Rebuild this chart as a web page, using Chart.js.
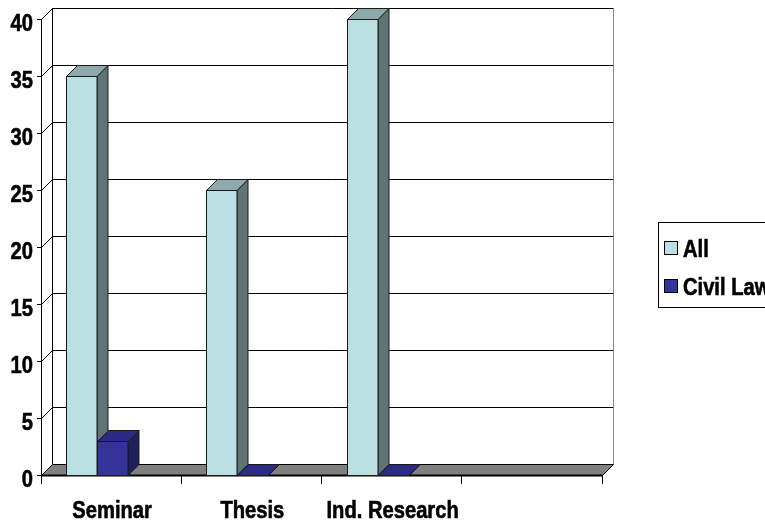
<!DOCTYPE html>
<html>
<head>
<meta charset="utf-8">
<script src="https://cdn.jsdelivr.net/npm/chart.js@4"></script>
<style>
  html, body { margin: 0; padding: 0; background: #ffffff; }
  #wrap { width: 765px; height: 523px; }
</style>
</head>
<body>
<div id="wrap"><canvas id="c" width="765" height="523"></canvas></div>
<script>
// Course type counts
const categories = ['Seminar', 'Thesis', 'Ind. Research', ''];
const allValues = [35, 25, 40, null];
const civilLawValues = [3, 0, 0, null];
const seriesNames = ['All', 'Civil Law'];
const yMin = 0;
const yMax = 40;
const yStep = 5;

// Styling
const LABEL_FONT = 'bold 24px "Liberation Sans", Arial, sans-serif';
const NARROW = 0.84;     // horizontal squeeze for a condensed label face
const DEPTH_X = 11;      // 3D depth offset to the right
const DEPTH_Y = -11;     // 3D depth offset upward
const GROUP_SHIFT = 14;  // clusters sit a little left of the category centre
const faces = [
  { front: '#bbe0e3', top: '#8eaaac', side: '#5e7475' },
  { front: '#333399', top: '#2b2b86', side: '#1f1f5c' }
];

function narrowText(ctx, text, x, y, align) {
  ctx.save();
  ctx.translate(x, y);
  ctx.scale(NARROW, 1);
  ctx.font = LABEL_FONT;
  ctx.textAlign = align;
  ctx.textBaseline = 'alphabetic';
  ctx.fillStyle = '#000000';
  ctx.strokeStyle = '#000000';
  ctx.lineWidth = 0.6;
  ctx.fillText(text, 0, 0);
  ctx.strokeText(text, 0, 0);
  ctx.restore();
}

// Draws the back wall, floor, 3D columns, axis labels and legend
const box3d = {
  id: 'box3d',
  beforeDatasetsDraw(chart) {
    const ctx = chart.ctx;
    const xs = chart.scales.x, ys = chart.scales.y;
    const L = xs.left, R = xs.right;
    const B = ys.getPixelForValue(yMin), T = ys.getPixelForValue(yMax);
    ctx.save();
    ctx.lineWidth = 1;

    // back wall
    ctx.fillStyle = '#ffffff';
    ctx.fillRect(L + DEPTH_X, T + DEPTH_Y, R - L, B - T);

    // grid lines on back wall and side wall
    ctx.strokeStyle = '#000000';
    for (let v = yMin; v <= yMax; v += yStep) {
      const y = Math.round(ys.getPixelForValue(v)) + 0.5;
      ctx.beginPath();
      ctx.moveTo(L + 0.5, y);
      ctx.lineTo(L + DEPTH_X + 0.5, y + DEPTH_Y);
      ctx.lineTo(R + DEPTH_X, y + DEPTH_Y);
      ctx.stroke();
    }
    // wall edges
    ctx.beginPath();
    ctx.moveTo(L + DEPTH_X + 0.5, T + DEPTH_Y);
    ctx.lineTo(L + DEPTH_X + 0.5, B + DEPTH_Y);
    ctx.stroke();
    ctx.strokeStyle = '#8c8c8c';
    ctx.beginPath();
    ctx.moveTo(R + DEPTH_X + 0.5, T + DEPTH_Y);
    ctx.lineTo(R + DEPTH_X + 0.5, B + DEPTH_Y);
    ctx.stroke();

    // floor
    const b = Math.round(B) + 0.5;
    ctx.fillStyle = '#808080';
    ctx.strokeStyle = '#000000';
    ctx.beginPath();
    ctx.moveTo(L + 0.5, b);
    ctx.lineTo(R + 0.5, b);
    ctx.lineTo(R + DEPTH_X + 0.5, b + DEPTH_Y);
    ctx.lineTo(L + DEPTH_X + 0.5, b + DEPTH_Y);
    ctx.closePath();
    ctx.fill();
    ctx.stroke();
    ctx.lineWidth = 2;
    ctx.beginPath();
    ctx.moveTo(L, b);
    ctx.lineTo(R + 1, b);
    ctx.stroke();
    ctx.lineWidth = 1;

    // columns, left to right so later fronts overlap earlier side faces
    const metas = chart.data.datasets.map((d, i) => chart.getDatasetMeta(i));
    for (let j = 0; j < categories.length; j++) {
      metas.forEach((meta, i) => {
        const el = meta.data[j];
        const raw = chart.data.datasets[i].data[j];
        if (!el || raw === null || raw === undefined) return;
        const w = el.width;
        const x0 = Math.round(el.x - w / 2 - GROUP_SHIFT) + 0.5;
        const x1 = Math.round(x0 + w);
        const yt = Math.round(el.y) + 0.5;
        const yb = Math.round(el.base) + 0.5;
        const f = faces[i];
        ctx.strokeStyle = '#1a1a1a';
        // side
        ctx.fillStyle = f.side;
        ctx.beginPath();
        ctx.moveTo(x1, yt);
        ctx.lineTo(x1 + DEPTH_X, yt + DEPTH_Y);
        ctx.lineTo(x1 + DEPTH_X, yb + DEPTH_Y);
        ctx.lineTo(x1, yb);
        ctx.closePath();
        ctx.fill(); ctx.stroke();
        // top
        ctx.fillStyle = f.top;
        ctx.beginPath();
        ctx.moveTo(x0, yt);
        ctx.lineTo(x1, yt);
        ctx.lineTo(x1 + DEPTH_X, yt + DEPTH_Y);
        ctx.lineTo(x0 + DEPTH_X, yt + DEPTH_Y);
        ctx.closePath();
        ctx.fill(); ctx.stroke();
        // front
        if (yb - yt > 0) {
          ctx.fillStyle = f.front;
          ctx.fillRect(x0, yt, x1 - x0, yb - yt);
          ctx.strokeRect(x0, yt, x1 - x0, yb - yt);
        }
      });
    }
    ctx.restore();
    return false;
  },
  afterDraw(chart) {
    const ctx = chart.ctx;
    const xs = chart.scales.x, ys = chart.scales.y;

    // value axis labels
    ys.ticks.forEach(t => {
      narrowText(ctx, String(t.value), ys.right - 8, ys.getPixelForValue(t.value) + 12, 'right');
    });
    // category labels
    chart.data.labels.forEach((lab, j) => {
      if (lab) narrowText(ctx, lab, xs.getPixelForValue(j) + 1, xs.top + 43, 'center');
    });

    // legend box
    ctx.save();
    ctx.fillStyle = '#ffffff';
    ctx.strokeStyle = '#000000';
    ctx.lineWidth = 1;
    ctx.fillRect(658.5, 222.5, 130, 85);
    ctx.strokeRect(658.5, 222.5, 130, 85);
    const rows = [241.5, 279.5];
    const baselines = [257, 295];
    chart.data.datasets.forEach((d, i) => {
      ctx.fillStyle = faces[i].front;
      ctx.fillRect(664.5, rows[i], 13, 13);
      ctx.strokeStyle = '#000000';
      ctx.strokeRect(664.5, rows[i], 13, 13);
      narrowText(ctx, d.label, 683, baselines[i], 'left');
    });
    ctx.restore();
  }
};

new Chart(document.getElementById('c'), {
  type: 'bar',
  data: {
    labels: categories,
    datasets: [
      { label: seriesNames[0], data: allValues, backgroundColor: faces[0].front },
      { label: seriesNames[1], data: civilLawValues, backgroundColor: faces[1].front }
    ]
  },
  options: {
    responsive: false,
    animation: false,
    events: [],
    layout: { padding: { left: 0, top: 19, right: 163, bottom: 0 } },
    datasets: { bar: { categoryPercentage: 0.442, barPercentage: 1 } },
    plugins: { legend: { display: false }, tooltip: { enabled: false } },
    scales: {
      x: {
        grid: { display: true, drawOnChartArea: false, offset: true, tickLength: 9, color: '#000000', tickColor: '#000000' },
        border: { display: false },
        ticks: { color: 'rgba(0,0,0,0)', font: { size: 24, weight: 'bold' }, padding: 12, maxRotation: 0, autoSkip: false },
        afterFit(s) { s.height = 48; }
      },
      y: {
        min: yMin, max: yMax,
        grid: { display: true, drawOnChartArea: false, tickLength: 4, color: '#000000', tickColor: '#000000' },
        border: { display: true, color: '#000000' },
        ticks: { stepSize: yStep, color: 'rgba(0,0,0,0)', font: { size: 24, weight: 'bold' }, padding: 4 },
        afterFit(s) { s.width = 41; }
      }
    }
  },
  plugins: [box3d]
});
</script>
</body>
</html>
